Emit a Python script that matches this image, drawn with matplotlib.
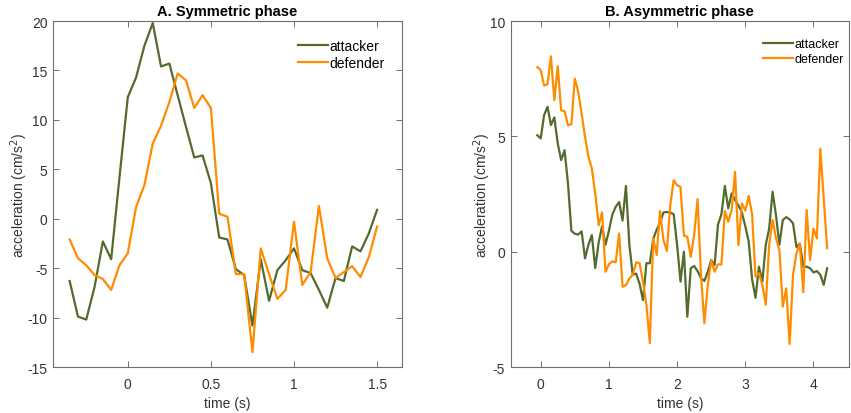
import numpy as np
import matplotlib.pyplot as plt

plt.rcParams['font.family'] = ['Liberation Sans', 'DejaVu Sans']

# symmetric phase, sampled every 50 ms
time_sym = np.round(np.arange(-0.35, 1.5001, 0.05), 2)
attacker_sym = [-6.3, -9.9, -10.2, -6.9, -2.3, -4.1, 4.2, 12.3, 14.3, 17.5, 19.8,
                15.4, 15.7, 12.5, 9.3, 6.2, 6.4, 3.6, -1.9, -2.1, -5.1, -5.7, -10.8,
                -4.1, -8.3, -5.2, -4.2, -3.0, -5.2, -5.5, -7.2, -9.0, -6.0, -6.3,
                -2.8, -3.3, -1.5, 0.9]
defender_sym = [-2.1, -4.0, -4.7, -5.7, -6.1, -7.2, -4.7, -3.5, 1.2, 3.4, 7.6,
                9.4, 11.8, 14.7, 14.0, 11.2, 12.5, 11.2, 0.5, 0.2, -5.6, -5.6, -13.5,
                -3.0, -5.6, -8.1, -7.2, -0.3, -6.7, -5.4, 1.3, -4.0, -6.0, -5.4,
                -4.8, -5.9, -3.9, -0.8]

# asymmetric phase, sampled every 50 ms
time_asym = np.round(np.arange(-0.05, 4.2001, 0.05), 2)
attacker_asym = [5.05, 4.91, 5.92, 6.28, 5.49, 5.82, 4.69, 3.97, 4.40, 2.96,
                 0.90, 0.78, 0.74, 0.88, -0.29, 0.30, 0.72, -0.71, 0.40, 1.10,
                 0.30, 0.90, 1.60, 1.95, 2.15, 1.35, 2.85, 0.30, -1.00, -0.95,
                 -1.40, -2.10, -0.50, -0.50, 0.55, 0.95, 1.25, 1.70, 1.72, 1.70,
                 1.62, 0.30, -1.30, 0.00, -2.82, -0.72, -0.62, -0.84, -1.15, -1.27,
                 -0.87, -0.36, -0.58, 1.18, 1.62, 2.85, 1.88, 2.53, 2.24, 2.00,
                 1.70, 1.10, 0.43, -1.20, -2.00, -0.65, -1.30, 0.30, 1.00, 2.60,
                 1.58, 0.30, 1.37, 1.50, 1.40, 1.23, 0.20, 0.35, -0.65, -0.65,
                 -0.72, -0.90, -0.84, -1.00, -1.44, -0.72]
defender_asym = [8.00, 7.87, 7.20, 7.26, 8.47, 6.57, 8.04, 6.13, 6.09, 5.48,
                 5.53, 7.50, 6.93, 5.99, 4.98, 4.11, 3.61, 2.52, 1.15, 1.70,
                 -0.87, -0.55, -0.42, -0.46, 0.79, -1.52, -1.45, -1.16, -1.01, -0.46,
                 -0.50, -1.30, -2.30, -3.97, 0.58, -0.14, 1.76, 0.50, 0.03, 2.02,
                 3.10, 2.88, 2.80, 0.69, 0.65, -0.22, 0.72, 2.28, -1.00, -3.10,
                 -1.44, -0.36, -0.87, -0.55, -0.55, 1.76, 1.30, 1.80, 3.46, 0.28,
                 2.09, 1.78, 2.42, 1.62, -1.08, -0.94, -1.44, -2.30, 0.29, 1.37,
                 0.58, 0.07, -2.38, -1.59, -4.00, -1.00, -0.07, 0.34, -1.76, 1.80,
                 -0.36, 1.00, 0.58, 4.47, 2.30, 0.15]

green = '#546b2e'
orange = '#ff8c00'
axis_grey = '#6e6e6e'

fig = plt.figure(figsize=(8.51, 4.14), dpi=100)
ax1 = fig.add_axes([0.0623, 0.1111, 0.4101, 0.8357])
ax2 = fig.add_axes([0.6001, 0.1111, 0.3975, 0.8357])


def style(ax, title, xlim, ylim, xticks, yticks, legend_size, legend_anchor, handle_len):
    ax.set_xlim(*xlim)
    ax.set_ylim(*ylim)
    ax.set_xticks(xticks)
    ax.set_yticks(yticks)
    ax.set_xticklabels([f'{t:g}' for t in xticks])
    ax.set_yticklabels([f'{t:g}' for t in yticks])
    ax.tick_params(direction='in', length=4, width=0.7, colors=axis_grey,
                   labelcolor='#333333', labelsize=10, top=True, right=True, pad=4)
    ax.tick_params(axis='x', pad=7)
    for s in ax.spines.values():
        s.set_color(axis_grey)
        s.set_linewidth(0.8)
    ax.set_title(title, fontsize=10.5, fontweight='bold', pad=4)
    ax.set_xlabel('time (s)', fontsize=10, color='#333333', labelpad=4)
    ax.set_ylabel('acceleration (cm/s$^2$)', fontsize=10, color='#333333', labelpad=-2)
    ax.legend(loc='upper right', bbox_to_anchor=legend_anchor, frameon=False,
              fontsize=legend_size, handlelength=handle_len, handletextpad=0.1,
              labelspacing=0.25, borderaxespad=0)


ax1.plot(time_sym, attacker_sym, color=green, lw=1.6, label='attacker')
ax1.plot(time_sym, defender_sym, color=orange, lw=1.6, label='defender')
style(ax1, 'A. Symmetric phase', (-0.45, 1.65), (-15, 20),
      [0, 0.5, 1, 1.5], list(range(-15, 21, 5)), 10, (0.965, 0.965), 2.1)

ax2.plot(time_asym, attacker_asym, color=green, lw=1.6, label='attacker')
ax2.plot(time_asym, defender_asym, color=orange, lw=1.6, label='defender')
style(ax2, 'B. Asymmetric phase', (-0.44, 4.52), (-5, 10),
      [0, 1, 2, 3, 4], [-5, 0, 5, 10], 9, (1.0, 0.965), 2.4)

fig.savefig('out.png', dpi=100)
